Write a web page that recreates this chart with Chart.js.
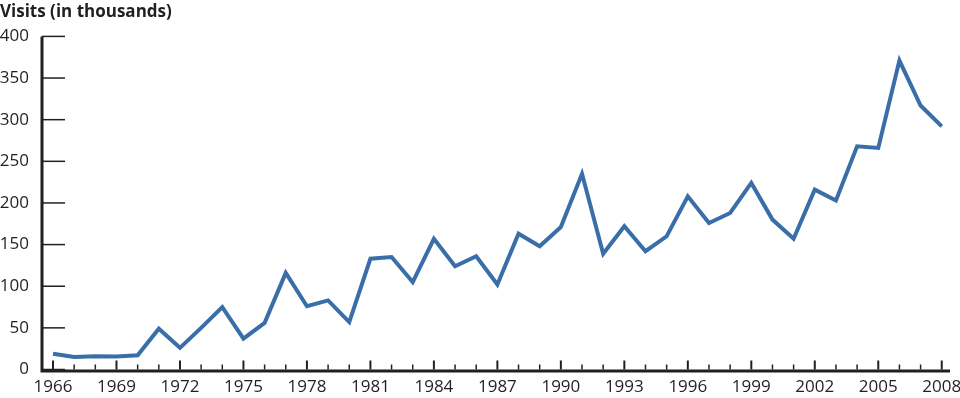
<!DOCTYPE html>
<html>
<head>
<meta charset="utf-8">
<script src="https://cdn.jsdelivr.net/npm/chart.js@4/dist/chart.umd.min.js"></script>
<style>
  html, body { margin: 0; padding: 0; background: #fff; }
  #wrap { width: 960px; height: 398px; }
</style>
</head>
<body>
<div id="wrap"><canvas id="visitsChart"></canvas></div>
<script>
// values, thousands of visits per year
const years = [1966, 1967, 1968, 1969, 1970, 1971, 1972, 1973, 1974, 1975,
  1976, 1977, 1978, 1979, 1980, 1981, 1982, 1983, 1984, 1985, 1986, 1987,
  1988, 1989, 1990, 1991, 1992, 1993, 1994, 1995, 1996, 1997, 1998, 1999,
  2000, 2001, 2002, 2003, 2004, 2005, 2006, 2007, 2008];
const visits = [19, 15, 16, 15.5, 17, 49, 26, 50, 75, 37,
  56, 116, 76, 83, 57, 133, 135, 105, 157, 124, 136, 102,
  163, 148, 171, 235, 139, 172, 142, 160, 208, 176, 188, 224,
  180, 157, 216, 203, 268, 266, 371, 317, 292];
const labelYears = [1966, 1969, 1972, 1975, 1978, 1981, 1984, 1987, 1990, 1993, 1996, 1999, 2002, 2005, 2008];
const yTicks = [0, 50, 100, 150, 200, 250, 300, 350, 400];

const INK = '#231f20';
const FONT = "'Open Sans', 'Noto Sans', sans-serif";

// axis lines and inward tick marks, like the original print figure
const axisPlugin = {
  id: 'axisPlugin',
  afterDraw(chart) {
    const ctx = chart.ctx;
    const xs = chart.scales.x, ys = chart.scales.y;
    const a = chart.chartArea;
    ctx.save();
    ctx.strokeStyle = INK;
    ctx.lineCap = 'butt';
    // y ticks
    ctx.lineWidth = 1.5;
    yTicks.forEach(v => {
      const py = ys.getPixelForValue(v);
      ctx.beginPath();
      ctx.moveTo(a.left, py);
      ctx.lineTo(a.left + 23, py);
      ctx.stroke();
    });
    // x ticks, longer ones under the labels
    years.forEach(yr => {
      const px = xs.getPixelForValue(yr);
      const major = labelYears.includes(yr);
      ctx.lineWidth = major ? 2 : 1.5;
      ctx.beginPath();
      ctx.moveTo(px, a.bottom);
      ctx.lineTo(px, a.bottom - (major ? 9 : 5));
      ctx.stroke();
    });
    // axis lines
    ctx.lineWidth = 3;
    ctx.beginPath();
    ctx.moveTo(a.left, a.top);
    ctx.lineTo(a.left, a.bottom + 1.5);
    ctx.lineTo(a.right, a.bottom + 1.5);
    ctx.stroke();
    ctx.restore();
  }
};

new Chart(document.getElementById('visitsChart'), {
  type: 'line',
  data: {
    datasets: [{
      label: 'Visits',
      data: years.map((yr, i) => ({ x: yr, y: visits[i] })),
      borderColor: '#3a6ea8',
      backgroundColor: '#3a6ea8',
      borderWidth: 4,
      pointRadius: 0,
      tension: 0,
      fill: false
    }]
  },
  options: {
    responsive: true,
    maintainAspectRatio: false,
    animation: false,
    layout: { padding: { left: 0, right: 10, top: 0, bottom: 0 } },
    plugins: {
      legend: { display: false },
      tooltip: { enabled: false },
      title: {
        display: true,
        text: 'Visits (in thousands)',
        align: 'start',
        color: INK,
        font: { family: FONT, size: 17, weight: 'bold', lineHeight: 1.2 },
        padding: { top: 2, bottom: 14 }
      }
    },
    scales: {
      x: {
        type: 'linear',
        min: 1965.48,
        max: 2008.39,
        afterBuildTicks: s => { s.ticks = labelYears.map(v => ({ value: v })); },
        afterFit: s => { s.height = 28.5; s.paddingLeft = 0; s.paddingRight = 0; },
        grid: { display: false, drawTicks: false },
        border: { display: false },
        ticks: {
          color: INK,
          padding: 7,
          maxRotation: 0,
          autoSkip: false,
          font: { family: FONT, size: 17 },
          callback: v => String(v)
        }
      },
      y: {
        min: 0,
        max: 400,
        afterBuildTicks: s => { s.ticks = yTicks.map(v => ({ value: v })); },
        afterFit: s => { s.width = 42; s.paddingTop = 0; s.paddingBottom = 0; },
        grid: { display: false, drawTicks: false },
        border: { display: false },
        ticks: {
          color: INK,
          padding: 13,
          font: { family: FONT, size: 17 }
        }
      }
    }
  },
  plugins: [axisPlugin]
});
</script>
</body>
</html>
